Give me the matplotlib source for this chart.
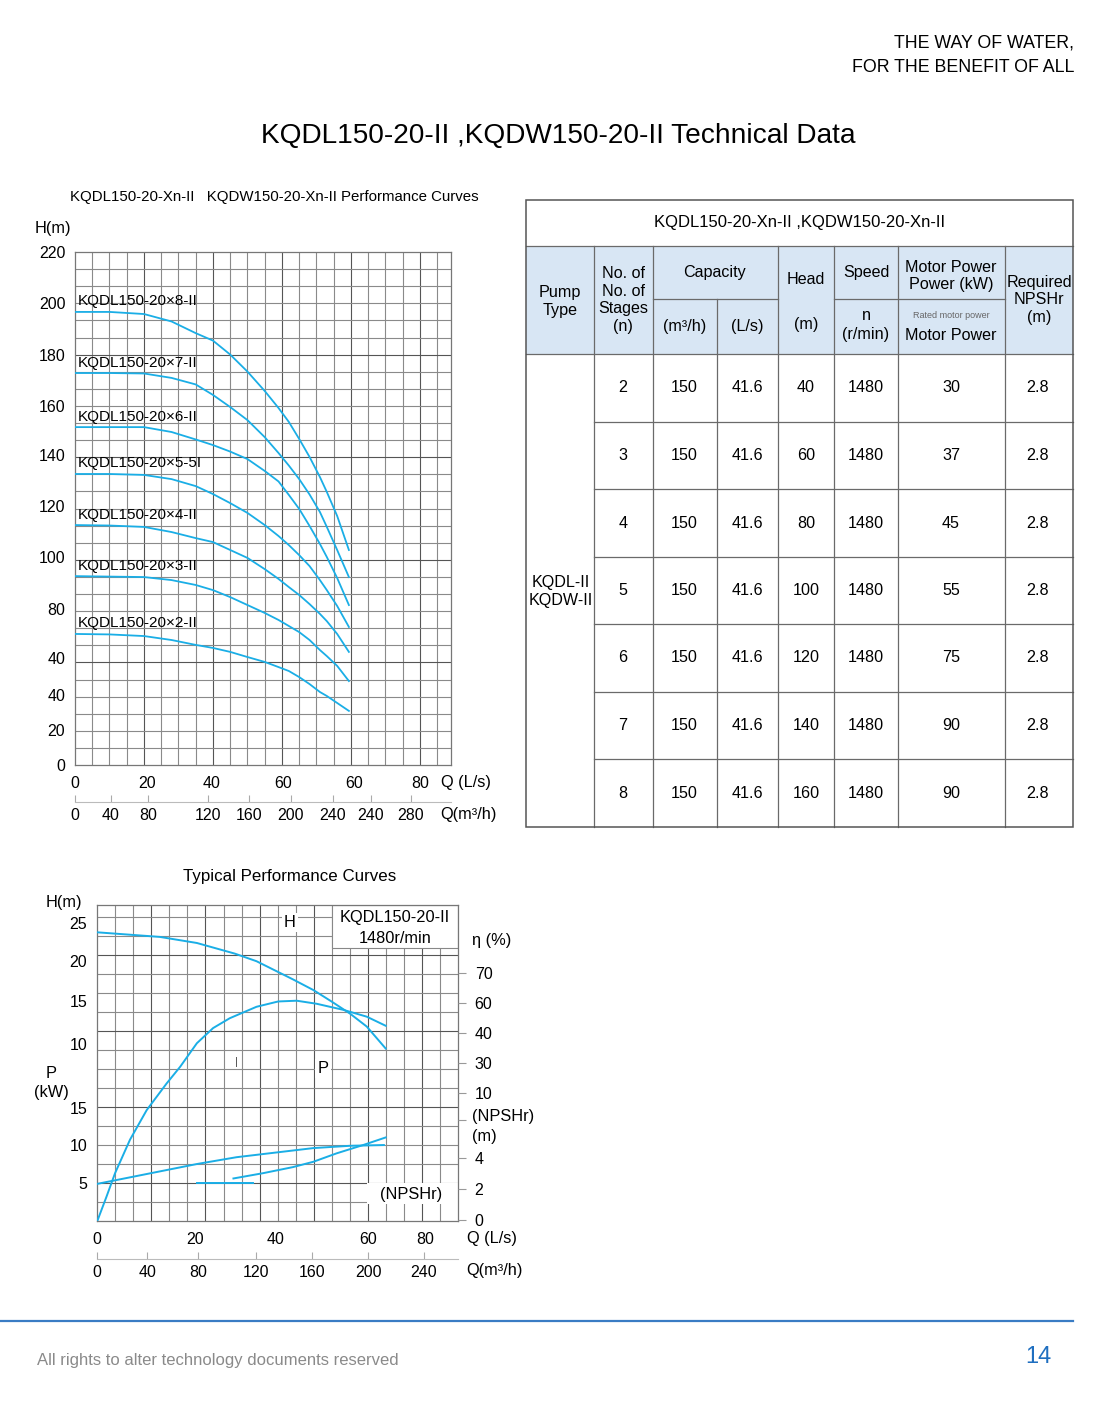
import matplotlib
matplotlib.use('Agg')
import matplotlib.pyplot as plt
from matplotlib.patches import Rectangle
import numpy as np

plt.rcParams['font.family'] = ['Liberation Sans', 'DejaVu Sans']

W, H = 1119, 1405
BLUE = '#1aaee6'
GRID_MINOR = '#8a8a8a'
GRID_MAJOR = '#555555'
FS = 11.8

# ---------------- data: multistage curves (H vs Q, as drawn) ----------------
q_pos = [0, 10, 20, 28, 35, 40, 45, 50, 55, 59, 62, 65, 68, 71, 73, 76, 79.4]
stage_names = ['KQDL150-20×8-II', 'KQDL150-20×7-II', 'KQDL150-20×6-II',
               'KQDL150-20×5-5I', 'KQDL150-20×4-II', 'KQDL150-20×3-II',
               'KQDL150-20×2-II']
head_8 = [194.3, 194.3, 193.4, 190.2, 185.2, 182.0, 176.0, 168.7, 160.4, 153.1,
          147.1, 139.8, 132.1, 123.5, 117.1, 106.8, 92.2]
head_7 = [168.1, 168.1, 167.9, 166.0, 163.2, 158.7, 153.5, 147.9, 140.6, 133.8,
          128.4, 122.6, 116.0, 108.5, 102.1, 92.2, 80.6]
head_6 = [144.9, 144.9, 144.9, 142.8, 139.6, 137.2, 134.4, 131.2, 126.1, 121.6,
          115.8, 109.8, 102.5, 94.8, 89.2, 80.2, 68.6]
head_5 = [124.8, 124.8, 124.4, 122.6, 119.6, 116.2, 112.3, 108.1, 102.9, 98.2,
          94.3, 90.0, 85.3, 79.3, 75.0, 68.2, 59.2]
head_4 = [102.9, 102.7, 102.1, 99.9, 97.3, 95.6, 92.2, 88.8, 84.0, 79.8,
          76.3, 72.9, 69.0, 64.8, 61.7, 56.2, 48.5]
head_3 = [81.0, 80.8, 80.6, 79.3, 77.2, 75.0, 72.0, 68.6, 65.2, 62.2,
          59.6, 57.0, 53.6, 49.3, 46.7, 42.5, 36.0]
head_2 = [56.2, 56.0, 55.3, 53.6, 51.5, 50.2, 48.5, 46.3, 44.2, 42.0,
          40.3, 37.7, 34.7, 31.3, 29.6, 26.6, 23.2]
stage_heads = [head_8, head_7, head_6, head_5, head_4, head_3, head_2]

top_y_pos = [220, 198, 176, 154, 133, 111, 89, 67, 46, 30, 15, 0]
top_y_lab = ['220', '200', '180', '160', '140', '120', '100', '80', '40', '40', '20', '0']
top_x_pos = [0, 20.9, 39.7, 60.3, 80.9, 100]
top_x_lab = ['0', '20', '40', '60', '60', '80']
top_m3_pos = [0, 10.4, 21.2, 38.6, 50.4, 62.6, 74.8, 85.8, 97.4]
top_m3_lab = ['0', '40', '80', '120', '160', '200', '240', '240', '280']

# ---------------- data: typical performance curves ----------------
h_q = [0.15, 13.9, 22.1, 30.5, 35.3, 43.4, 47.9, 51.9, 56.0, 59.7, 63.9]
h_v = [38.0, 37.4, 36.6, 35.2, 34.2, 31.8, 30.4, 28.9, 27.3, 25.6, 22.7]
eta_q = [0.15, 2.1, 4.0, 7.3, 11.0, 15.4, 18.4, 22.1, 25.7, 29.4, 35.3, 40.1, 44.2,
         48.6, 54.5, 59.7, 63.9]
eta_v = [0.13, 3.2, 6.3, 10.7, 14.6, 18.1, 20.3, 23.4, 25.4, 26.7, 28.2, 28.9, 29.0,
         28.6, 27.8, 26.9, 25.7]
p_q = [0.15, 22.1, 30.9, 47.9, 56.0, 63.5]
p_v = [4.9, 7.5, 8.4, 9.6, 9.9, 10.0]
npsh_q = [30.2, 36.8, 43.4, 47.9, 53.0, 58.9, 63.9]
npsh_v = [5.6, 6.3, 7.1, 7.8, 8.9, 10.0, 11.0]
base_q = [22.1, 34.5]
base_v = [5.0, 5.0]

bot_left_pos = [39.2, 34.2, 28.9, 23.3, 14.9, 10, 5]
bot_left_lab = ['25', '20', '15', '10', '15', '10', '5']
bot_right_pos = [32.6, 28.7, 24.7, 20.8, 16.8, 13.3, 8.3, 4.2, 0.1]
bot_right_lab = ['70', '60', '40', '30', '10', '', '4', '2', '0']
bot_x_pos = [0, 21.7, 39.6, 60, 72.6]
bot_x_lab = ['0', '20', '40', '60', '80']
bot_m3_pos = [0, 11.1, 22.3, 35.2, 47.6, 60, 72.3]
bot_m3_lab = ['0', '40', '80', '120', '160', '200', '240']

# ---------------- data: table ----------------
stages = ['2', '3', '4', '5', '6', '7', '8']
cap_m3h = ['150'] * 7
cap_ls = ['41.6'] * 7
heads = ['40', '60', '80', '100', '120', '140', '160']
speeds = ['1480'] * 7
motor_kw = ['30', '37', '45', '55', '75', '90', '90']
npshr = ['2.8'] * 7

fig = plt.figure(figsize=(W / 100, H / 100), dpi=100)


def px_axes(l, t, r, b):
    return fig.add_axes([l / W, 1 - b / H, (r - l) / W, (b - t) / H])


def ftext(x, y, s, **kw):
    kw.setdefault('va', 'center')
    kw.setdefault('ha', 'center')
    fig.text(x / W, 1 - y / H, s, **kw)


# ---------------- page header / footer ----------------
ftext(1074, 43, 'THE WAY OF WATER,', ha='right', fontsize=12.8)
ftext(1074, 67, 'FOR THE BENEFIT OF ALL', ha='right', fontsize=12.8)
ftext(558, 136, 'KQDL150-20-II ,KQDW150-20-II Technical Data', fontsize=20.2)
fig.add_artist(plt.Line2D([0, 1073 / W], [1 - 1321 / H] * 2, color='#3a7cc4', lw=1.6))
ftext(37, 1361, 'All rights to alter technology documents reserved', ha='left',
      fontsize=12, color='#8a8a8a')
ftext(1038, 1357, '14', fontsize=17, color='#1f6fc0')

# ---------------- top chart ----------------
ax = px_axes(75, 252, 451, 765)
ax.set_xlim(0, 109)
ax.set_ylim(0, 220)
for xv in np.arange(5, 109, 5):
    ax.axvline(xv, color=GRID_MAJOR if xv % 20 == 0 else GRID_MINOR, lw=0.8, zorder=0)
ystep = 220 / 30
for i in range(1, 30):
    ax.axhline(i * ystep, color=GRID_MAJOR if i % 6 == 0 else GRID_MINOR, lw=0.8, zorder=0)
for s in ax.spines.values():
    s.set_color('#777777')
    s.set_linewidth(0.9)

for name, hh in zip(stage_names, stage_heads):
    ax.plot(q_pos, hh, color=BLUE, lw=1.3, zorder=3)
    ax.text(0.9, hh[0] + 4.5, name, fontsize=11, va='center', ha='left', zorder=4)

ax.set_yticks(top_y_pos, top_y_lab)
ax.set_xticks(top_x_pos, top_x_lab)
ax.tick_params(length=0, labelsize=11.5)
ax.tick_params(axis='y', pad=7)
ax.tick_params(axis='x', pad=8)
sec = ax.secondary_xaxis(-37 / 513)
sec.set_xticks(top_m3_pos, top_m3_lab)
sec.tick_params(direction='in', length=5, color='#aaaaaa', labelsize=11.5, pad=4)
sec.spines['bottom'].set_color('#bbbbbb')

ftext(274, 197, 'KQDL150-20-Xn-II   KQDW150-20-Xn-II Performance Curves', fontsize=10.8)
ftext(35, 228, 'H(m)', ha='left', fontsize=FS)
ftext(441, 782, 'Q (L/s)', ha='left', fontsize=FS)
ftext(440, 814, 'Q(m³/h)', ha='left', fontsize=FS)

# ---------------- bottom chart ----------------
bx = px_axes(97, 905, 458, 1221)
bx.set_xlim(0, 79.9)
bx.set_ylim(0, 41.6)
for xv in np.arange(4, 80, 4):
    bx.axvline(xv, color=GRID_MAJOR if xv % 12 == 0 else GRID_MINOR, lw=0.8, zorder=0)
for i, yv in enumerate(np.arange(2.5, 41.6, 2.5)):
    bx.axhline(yv, color=GRID_MAJOR if i % 4 == 1 else GRID_MINOR, lw=0.8, zorder=0)
for s in bx.spines.values():
    s.set_color('#777777')
    s.set_linewidth(0.9)

for qq, vv in [(h_q, h_v), (eta_q, eta_v), (p_q, p_v), (npsh_q, npsh_v), (base_q, base_v)]:
    bx.plot(qq, vv, color=BLUE, lw=1.4, zorder=3)

bx.add_patch(Rectangle((52, 35.9), 27.9, 5.7, facecolor='white', edgecolor='#888888',
                       lw=0.8, zorder=2))
bx.text(65.9, 39.9, 'KQDL150-20-II', fontsize=FS, ha='center', va='center', zorder=4)
bx.text(65.9, 37.2, '1480r/min', fontsize=FS, ha='center', va='center', zorder=4)
bx.add_patch(Rectangle((59.7, 2.2), 20.2, 2.8, facecolor='white', edgecolor='none', zorder=2))
bx.text(69.5, 3.5, '(NPSHr)', fontsize=FS, ha='center', va='center', zorder=4)
bx.text(42.7, 39.3, 'H', fontsize=FS, ha='center', va='center', zorder=4,
        bbox=dict(facecolor='white', edgecolor='none', pad=1.5))
bx.text(50.0, 20.1, 'P', fontsize=FS, ha='center', va='center', zorder=4,
        bbox=dict(facecolor='white', edgecolor='none', pad=1.5))
bx.text(30.8, 20.9, '|', fontsize=8, ha='center', va='center', zorder=4, color='#444444')

bx.set_yticks(bot_left_pos, bot_left_lab)
bx.set_xticks(bot_x_pos, bot_x_lab)
bx.tick_params(length=0, labelsize=11.5)
bx.tick_params(axis='y', pad=7)
bx.tick_params(axis='x', pad=8)
bsec = bx.secondary_xaxis(-38 / 316)
bsec.set_xticks(bot_m3_pos, bot_m3_lab)
bsec.tick_params(direction='in', length=5, color='#aaaaaa', labelsize=11.5, pad=4)
bsec.spines['bottom'].set_color('#bbbbbb')

bx2 = bx.twinx()
bx2.set_ylim(0, 41.6)
bx2.set_yticks(bot_right_pos, bot_right_lab)
bx2.tick_params(length=6, color='#999999', labelsize=11.5, pad=6)
for s in bx2.spines.values():
    s.set_visible(False)

ftext(290, 876, 'Typical Performance Curves', fontsize=12.2)
ftext(64, 903, 'H(m)', fontsize=FS)
ftext(51, 1073, 'P', fontsize=FS)
ftext(51, 1093, '(kW)', fontsize=FS)
ftext(472, 940, 'η (%)', ha='left', fontsize=FS)
ftext(472, 1117, '(NPSHr)', ha='left', fontsize=FS)
ftext(472, 1137, '(m)', ha='left', fontsize=FS)
ftext(467, 1238, 'Q (L/s)', ha='left', fontsize=FS)
ftext(466, 1271, 'Q(m³/h)', ha='left', fontsize=FS)

# ---------------- table ----------------
tx = px_axes(520, 195, 1080, 835)
tx.set_xlim(520, 1080)
tx.set_ylim(835, 195)
tx.axis('off')

cols = [526, 594, 652.5, 717, 777.5, 834, 897.5, 1004.5, 1073]
rows = [354, 422, 489, 557, 624, 692, 759, 827]
LC = '#6a6a6a'
tx.add_patch(Rectangle((526, 246), 1073 - 526, 354 - 246, facecolor='#d8e6f4',
                       edgecolor='none', zorder=0))
tx.add_patch(Rectangle((526, 200), 1073 - 526, 827 - 200, facecolor='none',
                       edgecolor='#555555', lw=1.1, zorder=3))
tx.plot([526, 1073], [246, 246], color=LC, lw=0.9)
tx.plot([526, 1073], [354, 354], color=LC, lw=0.9)
for c in cols[1:-1]:
    if c == 717:
        tx.plot([c, c], [299, 827], color=LC, lw=0.9)
    else:
        tx.plot([c, c], [246, 827], color=LC, lw=0.9)
for a, b in [(652.5, 777.5), (834, 1004.5)]:
    tx.plot([a, b], [299, 299], color=LC, lw=0.9)
for r in rows[1:-1]:
    tx.plot([594, 1073], [r, r], color=LC, lw=0.9)

tfs = 11.6
tx.text(800, 222, 'KQDL150-20-Xn-II ,KQDW150-20-Xn-II', fontsize=12, ha='center', va='center')
tx.text(560, 301, 'Pump\nType', fontsize=tfs, ha='center', va='center', linespacing=1.25)
tx.text(623, 300, 'No. of\nNo. of\nStages\n(n)', fontsize=tfs, ha='center', va='center',
        linespacing=1.2)
tx.text(714.5, 272, 'Capacity', fontsize=tfs, ha='center', va='center')
tx.text(685, 326, '(m³/h)', fontsize=tfs, ha='center', va='center')
tx.text(747, 326, '(L/s)', fontsize=tfs, ha='center', va='center')
tx.text(806, 280, 'Head', fontsize=tfs, ha='center', va='center')
tx.text(806, 325, '(m)', fontsize=tfs, ha='center', va='center')
tx.text(866, 272, 'Speed', fontsize=tfs, ha='center', va='center')
tx.text(866, 325, 'n\n(r/min)', fontsize=tfs, ha='center', va='center', linespacing=1.25)
tx.text(951, 276, 'Motor Power\nPower (kW)', fontsize=tfs, ha='center', va='center',
        linespacing=1.1)
tx.text(951, 316, 'Rated motor power', fontsize=6.5, ha='center', va='center', color='#666666')
tx.text(951, 335, 'Motor Power', fontsize=tfs, ha='center', va='center')
tx.text(1039, 300, 'Required\nNPSHr\n(m)', fontsize=tfs, ha='center', va='center',
        linespacing=1.2)
tx.text(561, 591, 'KQDL-II\nKQDW-II', fontsize=tfs, ha='center', va='center', linespacing=1.25)

centers = [623, 684, 747, 806, 866, 951, 1038]
for i in range(len(stages)):
    yc = (rows[i] + rows[i + 1]) / 2
    vals = [stages[i], cap_m3h[i], cap_ls[i], heads[i], speeds[i], motor_kw[i], npshr[i]]
    for xc, v in zip(centers, vals):
        tx.text(xc, yc, v, fontsize=tfs, ha='center', va='center')

fig.savefig('out.png', dpi=100, facecolor='white')
